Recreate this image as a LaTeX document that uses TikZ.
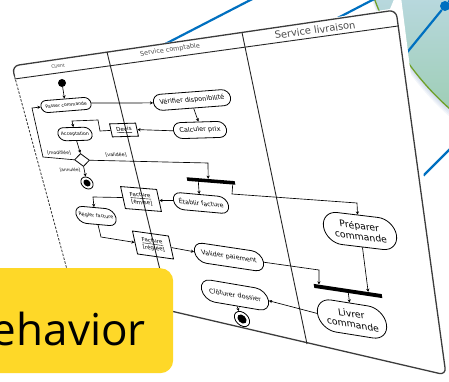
\documentclass[tikz,border=0pt]{standalone}
\usepackage{fontspec}
\setmainfont{DejaVu Sans}
\newfontfamily\bannerfont{Open Sans}
\usetikzlibrary{shapes.misc,shapes.geometric,arrows.meta,calc}

\definecolor{edgegray}{RGB}{60,60,60}
\definecolor{netblue}{RGB}{0,112,192}
\definecolor{discrim}{RGB}{112,160,40}
\definecolor{disctop}{RGB}{184,216,222}
\definecolor{discbot}{RGB}{156,205,178}
\definecolor{shadowblue}{RGB}{150,175,215}
\definecolor{bannerfill}{RGB}{254,216,40}

\newcommand\fsz[1]{\fontsize{#1}{\fpeval{1.15*#1}}\selectfont}

\tikzset{
  persp/.style 2 args={cm={1,#1,-#2,1,(0,0)}},
  act/.style={rounded rectangle, draw, line width=0.8pt, inner xsep=1.5pt, inner ysep=1pt, align=center},
  obj/.style={rectangle, draw, line width=0.8pt, inner xsep=2pt, inner ysep=1.5pt, align=center},
  guard/.style={inner sep=0pt},
  hdr/.style={inner sep=0pt, text=black!70},
  flow/.style={line width=0.65pt, -{Stealth[length=3.2pt,width=3.2pt]}},
  bar/.style={rectangle, fill=black, inner sep=0pt},
  lane/.style={line width=0.9pt, draw=black!85},
  net/.style={netblue, line width=2.2pt},
}

\begin{document}
\begin{tikzpicture}[x=1pt,y=-1pt]
\useasboundingbox (0,0) rectangle (449,382);
\clip (0,0) rectangle (449,382);
\fill[white] (0,0) rectangle (449,382);

% disc in the corner, with a soft shadow
\foreach \d in {2,4,6,8}
  \fill[shadowblue, opacity=0.12] (628,-94+\d) circle[radius=270pt];
\begin{scope}
  \clip (628,-94) circle[radius=270pt];
  \shade[top color=disctop, bottom color=discbot] (360,-2) rectangle (452,120);
\end{scope}
\draw[discrim, line width=1.3pt] (628,-94) circle[radius=270pt];

% network lines
\node[circle, fill=netblue, minimum size=10pt, inner sep=0pt] (hub) at (445,6) {};
\coordinate (hubSW) at (396,66);
\coordinate (hubNE) at (453,-3);
\draw[net] (hub) -- (hubSW);
\draw[net] (hub) -- (hubNE);
\coordinate (netA1) at (140,57);
\coordinate (netA2) at (262,-6);
\draw[net] (netA1) -- (netA2);
\coordinate (netB1) at (330,22);
\coordinate (netB2) at (382,-5);
\draw[net] (netB1) -- (netB2);
\coordinate (netC1) at (408,191);
\coordinate (netC2) at (452,147);
\draw[net] (netC1) -- (netC2);

% paper
\fill[white] (12,66) -- (390,9) -- (395,-3) -- (401,-3) -- (450,383) -- (70,294) -- cycle;

% sheet frame
\coordinate (TL) at (12,66);
\coordinate (TR) at (396,10);
\coordinate (BR) at (446,375);
\coordinate (BL) at (72,288);
\coordinate (TLd) at (14.5,76);
\draw[edgegray, line width=1.3pt, rounded corners=7pt] (TLd) -- (TL) -- (TR) -- (BR) -- (BL);
\draw[black!80, line width=0.8pt, dash pattern=on 2.5pt off 1.5pt] (TLd) -- (BL);

% swimlanes
\coordinate (HL) at (14.5,79);
\coordinate (HR) at (398,26);
\draw[lane] (HL) -- (HR);
\coordinate (D1t) at (107,52);
\coordinate (D1b) at (170,311);
\draw[lane] (D1t) -- (D1b);
\coordinate (D2t) at (242,32.5);
\coordinate (D2b) at (307,344);
\draw[lane] (D2t) -- (D2b);

\node[hdr, font=\fsz{4.6}, persp={0.14}{0.25}] (hClient) at (58,66) {Client};
\node[hdr, font=\fsz{6.4}, persp={0.145}{0.22}] (hCompta) at (170,50) {Service comptable};
\node[hdr, font=\fsz{9.8}, persp={0.13}{0.17}] (hLivr) at (315,30) {Service livraison};

% activities
\node[circle, fill=black, minimum size=8pt, inner sep=0pt] (start) at (62,83) {};
\node[act, font=\fsz{4.5}, minimum height=12pt, minimum width=53pt, persp={0.08}{0.24}] (passer) at (66,105) {Passer commande};
\node[act, font=\fsz{6.5}, minimum height=16pt, minimum width=80pt, persp={0.075}{0.2}] (verif) at (192,100) {Vérifier disponibilité};
\node[act, font=\fsz{6.5}, minimum height=16pt, minimum width=56pt, persp={0.03}{0.19}] (calc) at (200,130) {Calculer prix};
\node[obj, font=\fsz{5.5}, minimum height=13pt, minimum width=26pt, persp={0.03}{0.22}] (devis) at (124,130) {\underline{Devis}};
\node[act, font=\fsz{4.7}, minimum height=13pt, minimum width=37pt, persp={0.02}{0.24}] (accept) at (75,134) {Acceptation};
\node[diamond, draw, line width=0.8pt, minimum width=15pt, minimum height=13pt, inner sep=0pt, persp={-0.03}{0.24}] (choice) at (82,160) {};
\node[circle, draw, line width=0.8pt, minimum size=12pt, inner sep=0pt, persp={-0.04}{0.24}] (end1) at (87,183) {};
\node[circle, fill=black, minimum size=7pt, inner sep=0pt, persp={-0.04}{0.24}] (end1dot) at (87,183) {};

\node[bar, minimum width=48pt, minimum height=3.6pt, persp={-0.08}{0.2}] (fork) at (211,181) {};
\node[act, font=\fsz{6.3}, minimum height=17pt, minimum width=58pt, persp={-0.09}{0.2}] (etab) at (201,203) {Établir facture};
\node[obj, font=\fsz{5.6}, minimum width=36pt, minimum height=22pt, persp={-0.08}{0.22}] (emise) at (141,199) {\underline{Facture}\\{[émise]}};
\node[act, font=\fsz{4.9}, minimum height=17pt, minimum width=43pt, persp={-0.09}{0.23}] (regler) at (96,216) {Régler facture};
\node[obj, font=\fsz{5.6}, minimum width=36pt, minimum height=23pt, persp={-0.14}{0.22}] (reglee) at (153,245) {\underline{Facture}\\{[réglée]}};
\node[act, font=\fsz{6.5}, minimum height=20pt, minimum width=72pt, persp={-0.15}{0.19}] (valider) at (229,257) {Valider paiement};
\node[act, font=\fsz{9.3}, minimum width=76pt, minimum height=32pt, persp={-0.12}{0.15}] (prep) at (360,231) {Préparer\\commande};
\node[bar, minimum width=68pt, minimum height=4pt, persp={-0.15}{0.16}] (join) at (348,291) {};
\node[act, font=\fsz{9.3}, minimum width=72pt, minimum height=32pt, persp={-0.16}{0.15}] (livrer) at (352,319) {Livrer\\commande};
\node[act, font=\fsz{6.5}, minimum height=22pt, minimum width=70pt, persp={-0.17}{0.19}] (clot) at (235,295) {Clôturer dossier};
\node[circle, draw, line width=0.8pt, minimum size=15pt, inner sep=0pt, persp={-0.17}{0.19}] (end2) at (242,319) {};
\node[circle, fill=black, minimum size=9pt, inner sep=0pt, persp={-0.17}{0.19}] (end2dot) at (242,319) {};

% guards
\node[guard, font=\fsz{4.6}, persp={-0.03}{0.24}] (gMod) at (59,153) {[modifiée]};
\node[guard, font=\fsz{4.8}, persp={-0.03}{0.23}] (gVal) at (116,155) {[validée]};
\node[guard, font=\fsz{4.3}, persp={-0.04}{0.24}] (gAnn) at (70,170) {[annulée]};

% flows
\draw[flow] (start) -- (passer.north);
\draw[flow] (passer.east) -- (verif.west);
\draw[flow] (verif.south) -- (calc.north);
\draw[flow] (calc.west) -- (devis.east);
\coordinate (devA) at (100,131);
\coordinate (devB) at (98,120);
\coordinate (devC) at (72,121);
\draw[flow] (devis.west) -- (devA) -- (devB) -- (devC) -- (accept.north);
\draw[flow] (accept.south) -- (choice.north);
\coordinate (modA) at (43,157);
\coordinate (modB) at (32,108);
\draw[flow] (choice.west) -- (modA) -- (modB) -- (passer.west);
\coordinate (valA) at (208,163);
\draw[flow] (choice.east) -- (valA) -- ($(fork.north west)!0.45!(fork.north east)$);
\draw[flow] (choice.south) -- (end1);
\draw[flow] ($(fork.south west)!0.23!(fork.south east)$) -- (etab.north);
\coordinate (forkA) at (232,194);
\coordinate (forkB) at (357,203);
\draw[flow] ($(fork.south west)!0.94!(fork.south east)$) -- (forkA) -- (forkB) -- (prep.north);
\draw[flow] (etab.west) -- (emise.east);
\coordinate (emA) at (93,197);
\draw[flow] (emise.west) -- (emA) -- (regler.north);
\coordinate (regA) at (101,237);
\draw[flow] (regler.south) -- (regA) -- (reglee.west);
\draw[flow] (reglee.east) -- (valider.west);
\coordinate (vpA) at (319,270);
\draw[flow] (valider.east) -- (vpA) -- ($(join.north west)!0.08!(join.north east)$);
\draw[flow] (prep.south) -- ($(join.north west)!0.8!(join.north east)$);
\draw[flow] ($(join.south west)!0.5!(join.south east)$) -- (livrer.north);
\draw[flow] (livrer.west) -- (clot.east);
\draw[flow] (clot.south) -- (end2);

% banner
\node[fill=bannerfill, rounded corners=13pt, minimum width=200pt, minimum height=105pt, anchor=north west, inner sep=0pt] (banner) at (-27,268) {};
\node[anchor=base east, inner sep=0pt, font=\bannerfont\fontsize{44}{44}\selectfont] (bannerText) at (146,345) {ehavior};
\end{tikzpicture}
\end{document}
